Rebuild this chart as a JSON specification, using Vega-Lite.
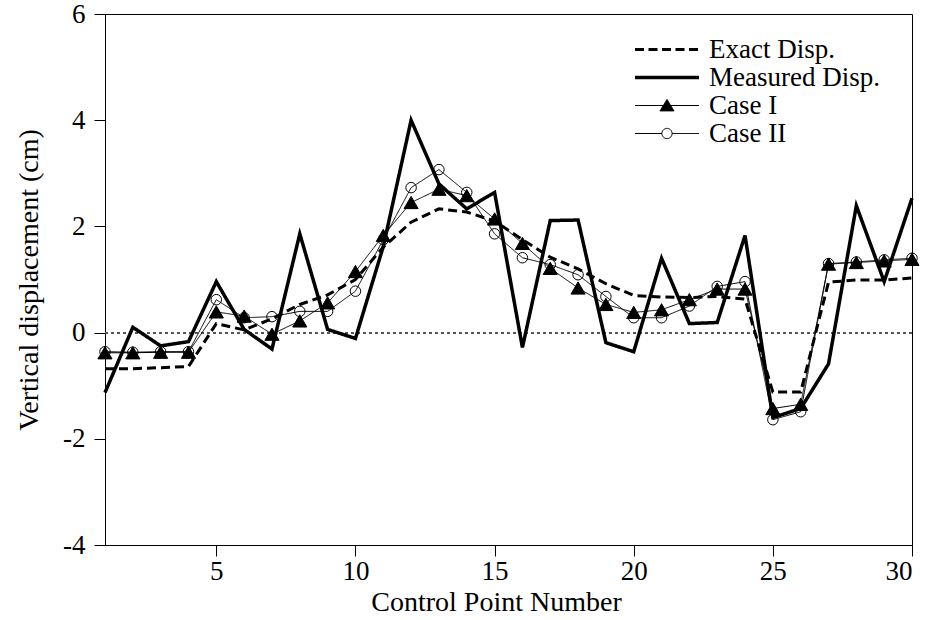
{
  "$schema": "https://vega.github.io/schema/vega-lite/v6.json",
  "width": 807,
  "height": 531,
  "autosize": {"type": "none"},
  "padding": {"left": 105, "top": 14, "right": 22, "bottom": 75},
  "background": "white",
  "datasets": {
    "disp": [
      {"point": 1, "series": "Exact Disp.", "value": -0.68},
      {"point": 2, "series": "Exact Disp.", "value": -0.68},
      {"point": 3, "series": "Exact Disp.", "value": -0.66},
      {"point": 4, "series": "Exact Disp.", "value": -0.64},
      {"point": 5, "series": "Exact Disp.", "value": 0.17},
      {"point": 6, "series": "Exact Disp.", "value": 0.05},
      {"point": 7, "series": "Exact Disp.", "value": 0.26},
      {"point": 8, "series": "Exact Disp.", "value": 0.53},
      {"point": 9, "series": "Exact Disp.", "value": 0.71},
      {"point": 10, "series": "Exact Disp.", "value": 1.0},
      {"point": 11, "series": "Exact Disp.", "value": 1.61},
      {"point": 12, "series": "Exact Disp.", "value": 2.08},
      {"point": 13, "series": "Exact Disp.", "value": 2.33},
      {"point": 14, "series": "Exact Disp.", "value": 2.27},
      {"point": 15, "series": "Exact Disp.", "value": 2.1},
      {"point": 16, "series": "Exact Disp.", "value": 1.75},
      {"point": 17, "series": "Exact Disp.", "value": 1.42},
      {"point": 18, "series": "Exact Disp.", "value": 1.2},
      {"point": 19, "series": "Exact Disp.", "value": 0.92},
      {"point": 20, "series": "Exact Disp.", "value": 0.7},
      {"point": 21, "series": "Exact Disp.", "value": 0.67},
      {"point": 22, "series": "Exact Disp.", "value": 0.66},
      {"point": 23, "series": "Exact Disp.", "value": 0.68},
      {"point": 24, "series": "Exact Disp.", "value": 0.63},
      {"point": 25, "series": "Exact Disp.", "value": -1.12},
      {"point": 26, "series": "Exact Disp.", "value": -1.12},
      {"point": 27, "series": "Exact Disp.", "value": 0.95},
      {"point": 28, "series": "Exact Disp.", "value": 0.99},
      {"point": 29, "series": "Exact Disp.", "value": 0.99},
      {"point": 30, "series": "Exact Disp.", "value": 1.03},
      {"point": 1, "series": "Measured Disp.", "value": -1.13},
      {"point": 2, "series": "Measured Disp.", "value": 0.1},
      {"point": 3, "series": "Measured Disp.", "value": -0.25},
      {"point": 4, "series": "Measured Disp.", "value": -0.17},
      {"point": 5, "series": "Measured Disp.", "value": 0.96},
      {"point": 6, "series": "Measured Disp.", "value": 0.06},
      {"point": 7, "series": "Measured Disp.", "value": -0.31},
      {"point": 8, "series": "Measured Disp.", "value": 1.86},
      {"point": 9, "series": "Measured Disp.", "value": 0.06},
      {"point": 10, "series": "Measured Disp.", "value": -0.11},
      {"point": 11, "series": "Measured Disp.", "value": 1.62},
      {"point": 12, "series": "Measured Disp.", "value": 4.0},
      {"point": 13, "series": "Measured Disp.", "value": 2.8},
      {"point": 14, "series": "Measured Disp.", "value": 2.33},
      {"point": 15, "series": "Measured Disp.", "value": 2.64},
      {"point": 16, "series": "Measured Disp.", "value": -0.28},
      {"point": 17, "series": "Measured Disp.", "value": 2.11},
      {"point": 18, "series": "Measured Disp.", "value": 2.12},
      {"point": 19, "series": "Measured Disp.", "value": -0.19},
      {"point": 20, "series": "Measured Disp.", "value": -0.36},
      {"point": 21, "series": "Measured Disp.", "value": 1.4},
      {"point": 22, "series": "Measured Disp.", "value": 0.17},
      {"point": 23, "series": "Measured Disp.", "value": 0.19},
      {"point": 24, "series": "Measured Disp.", "value": 1.83},
      {"point": 25, "series": "Measured Disp.", "value": -1.6},
      {"point": 26, "series": "Measured Disp.", "value": -1.43},
      {"point": 27, "series": "Measured Disp.", "value": -0.59},
      {"point": 28, "series": "Measured Disp.", "value": 2.39},
      {"point": 29, "series": "Measured Disp.", "value": 0.96},
      {"point": 30, "series": "Measured Disp.", "value": 2.53},
      {"point": 1, "series": "Case I", "value": -0.38},
      {"point": 2, "series": "Case I", "value": -0.38},
      {"point": 3, "series": "Case I", "value": -0.37},
      {"point": 4, "series": "Case I", "value": -0.37},
      {"point": 5, "series": "Case I", "value": 0.39},
      {"point": 6, "series": "Case I", "value": 0.31},
      {"point": 7, "series": "Case I", "value": -0.03},
      {"point": 8, "series": "Case I", "value": 0.22},
      {"point": 9, "series": "Case I", "value": 0.56},
      {"point": 10, "series": "Case I", "value": 1.15},
      {"point": 11, "series": "Case I", "value": 1.83},
      {"point": 12, "series": "Case I", "value": 2.45},
      {"point": 13, "series": "Case I", "value": 2.7},
      {"point": 14, "series": "Case I", "value": 2.58},
      {"point": 15, "series": "Case I", "value": 2.14},
      {"point": 16, "series": "Case I", "value": 1.68},
      {"point": 17, "series": "Case I", "value": 1.21},
      {"point": 18, "series": "Case I", "value": 0.84},
      {"point": 19, "series": "Case I", "value": 0.53},
      {"point": 20, "series": "Case I", "value": 0.38},
      {"point": 21, "series": "Case I", "value": 0.43},
      {"point": 22, "series": "Case I", "value": 0.62},
      {"point": 23, "series": "Case I", "value": 0.82},
      {"point": 24, "series": "Case I", "value": 0.82},
      {"point": 25, "series": "Case I", "value": -1.43},
      {"point": 26, "series": "Case I", "value": -1.35},
      {"point": 27, "series": "Case I", "value": 1.29},
      {"point": 28, "series": "Case I", "value": 1.32},
      {"point": 29, "series": "Case I", "value": 1.35},
      {"point": 30, "series": "Case I", "value": 1.38},
      {"point": 1, "series": "Case II", "value": -0.36},
      {"point": 2, "series": "Case II", "value": -0.37},
      {"point": 3, "series": "Case II", "value": -0.36},
      {"point": 4, "series": "Case II", "value": -0.36},
      {"point": 5, "series": "Case II", "value": 0.62},
      {"point": 6, "series": "Case II", "value": 0.28},
      {"point": 7, "series": "Case II", "value": 0.3},
      {"point": 8, "series": "Case II", "value": 0.4},
      {"point": 9, "series": "Case II", "value": 0.4},
      {"point": 10, "series": "Case II", "value": 0.78},
      {"point": 11, "series": "Case II", "value": 1.75},
      {"point": 12, "series": "Case II", "value": 2.73},
      {"point": 13, "series": "Case II", "value": 3.07},
      {"point": 14, "series": "Case II", "value": 2.64},
      {"point": 15, "series": "Case II", "value": 1.86},
      {"point": 16, "series": "Case II", "value": 1.41},
      {"point": 17, "series": "Case II", "value": 1.28},
      {"point": 18, "series": "Case II", "value": 1.09},
      {"point": 19, "series": "Case II", "value": 0.68},
      {"point": 20, "series": "Case II", "value": 0.28},
      {"point": 21, "series": "Case II", "value": 0.28},
      {"point": 22, "series": "Case II", "value": 0.5},
      {"point": 23, "series": "Case II", "value": 0.87},
      {"point": 24, "series": "Case II", "value": 0.96},
      {"point": 25, "series": "Case II", "value": -1.64},
      {"point": 26, "series": "Case II", "value": -1.49},
      {"point": 27, "series": "Case II", "value": 1.3},
      {"point": 28, "series": "Case II", "value": 1.33},
      {"point": 29, "series": "Case II", "value": 1.37},
      {"point": 30, "series": "Case II", "value": 1.4}
    ]
  },
  "data": {"name": "disp"},
  "encoding": {
    "x": {
      "field": "point",
      "type": "quantitative",
      "title": "Control Point Number",
      "scale": {"domain": [1, 30], "nice": false, "zero": false},
      "axis": {"values": [5, 10, 15, 20, 25, 30], "tickSize": 11, "labelPadding": 2, "titlePadding": 4, "titleX": 391}
    },
    "y": {
      "field": "value",
      "type": "quantitative",
      "title": "Vertical displacement (cm)",
      "scale": {"domain": [-4, 6], "nice": false, "zero": false},
      "axis": {"values": [-4, -2, 0, 2, 4, 6], "tickSize": 11, "labelPadding": 9, "titlePadding": 19, "labelExpr": "replace(datum.label, '\u2212', '-')"}
    }
  },
  "layer": [
    {
      "mark": {"type": "rule", "color": "#555555", "strokeWidth": 1, "strokeDash": [3, 3]},
      "encoding": {"x": {"value": 0}, "x2": {"value": 807}, "y": {"datum": 0}}
    },
    {
      "mark": {"type": "line", "color": "black", "strokeCap": "butt", "strokeJoin": "miter"},
      "encoding": {
        "strokeDash": {
          "field": "series",
          "type": "nominal",
          "scale": {
            "domain": ["Exact Disp.", "Measured Disp.", "Case I", "Case II"],
            "range": [[9, 5], [1, 0], [1, 0], [1, 0]]
          },
          "legend": null
        },
        "strokeWidth": {
          "field": "series",
          "type": "nominal",
          "scale": {
            "type": "ordinal",
            "domain": ["Exact Disp.", "Measured Disp.", "Case I", "Case II"],
            "range": [3, 3.5, 1, 1]
          },
          "legend": null
        }
      }
    },
    {
      "transform": [{"filter": "datum.series === 'Case I' || datum.series === 'Case II'"}],
      "mark": {"type": "point", "stroke": "black", "strokeWidth": 1, "opacity": 1},
      "encoding": {
        "shape": {
          "field": "series",
          "type": "nominal",
          "scale": {"domain": ["Case I", "Case II"], "range": ["triangle-up", "circle"]},
          "legend": null
        },
        "fill": {
          "field": "series",
          "type": "nominal",
          "scale": {"domain": ["Case I", "Case II"], "range": ["black", "transparent"]},
          "legend": null
        },
        "size": {
          "field": "series",
          "type": "nominal",
          "scale": {"type": "ordinal", "domain": ["Case I", "Case II"], "range": [200, 110]},
          "legend": null
        }
      }
    },
    {
      "description": "Carrier for the key: invisible marks whose scales hold the line-and-marker glyphs shown in the legend.",
      "mark": {"type": "point", "opacity": 0, "stroke": "black"},
      "encoding": {
        "shape": {
          "field": "series",
          "type": "nominal",
          "scale": {
            "domain": ["Exact Disp.", "Measured Disp.", "Case I", "Case II"],
            "range": [
              "M-1,0L1,0",
              "M-1,0L1,0",
              "M-1,0L1,0M0,-0.19L0.22,0.17L-0.22,0.17Z",
              "M-1,0L-0.16,0M0.16,0L1,0M-0.16,0A0.16,0.16 0 1,0 0.16,0A0.16,0.16 0 1,0 -0.16,0Z"
            ]
          },
          "legend": {"title": null}
        },
        "strokeDash": {
          "field": "series",
          "type": "nominal",
          "scale": {
            "domain": ["Exact Disp.", "Measured Disp.", "Case I", "Case II"],
            "range": [[9, 4.5], [1, 0], [1, 0], [1, 0]]
          },
          "legend": {"title": null}
        },
        "strokeWidth": {
          "field": "series",
          "type": "nominal",
          "scale": {
            "type": "ordinal",
            "domain": ["Exact Disp.", "Measured Disp.", "Case I", "Case II"],
            "range": [3, 3.5, 1, 1]
          },
          "legend": {"title": null}
        },
        "fill": {
          "field": "series",
          "type": "nominal",
          "scale": {
            "domain": ["Exact Disp.", "Measured Disp.", "Case I", "Case II"],
            "range": ["transparent", "transparent", "black", "transparent"]
          },
          "legend": {"title": null}
        }
      }
    }
  ],
  "resolve": {
    "scale": {"shape": "independent", "strokeDash": "independent", "strokeWidth": "independent", "fill": "independent", "size": "independent"}
  },
  "config": {
    "view": {"stroke": "black", "strokeWidth": 1},
    "font": "Liberation Serif",
    "legend": {
      "orient": "none",
      "legendX": 528,
      "legendY": 22,
      "padding": 0,
      "rowPadding": 0,
      "clipHeight": 27,
      "symbolSize": 4096,
      "symbolFillColor": "transparent",
      "symbolStrokeColor": "black",
      "labelOffset": 8,
      "labelLimit": 300,
      "labelFont": "Liberation Serif",
      "labelFontSize": 27,
      "labelColor": "black"
    },
    "axis": {
      "grid": false,
      "domainColor": "black",
      "tickColor": "black",
      "labelColor": "black",
      "titleColor": "black",
      "labelFont": "Liberation Serif",
      "titleFont": "Liberation Serif",
      "labelFontSize": 27,
      "titleFontSize": 28,
      "titleFontWeight": "normal",
      "domainWidth": 1,
      "tickWidth": 1
    }
  }
}
